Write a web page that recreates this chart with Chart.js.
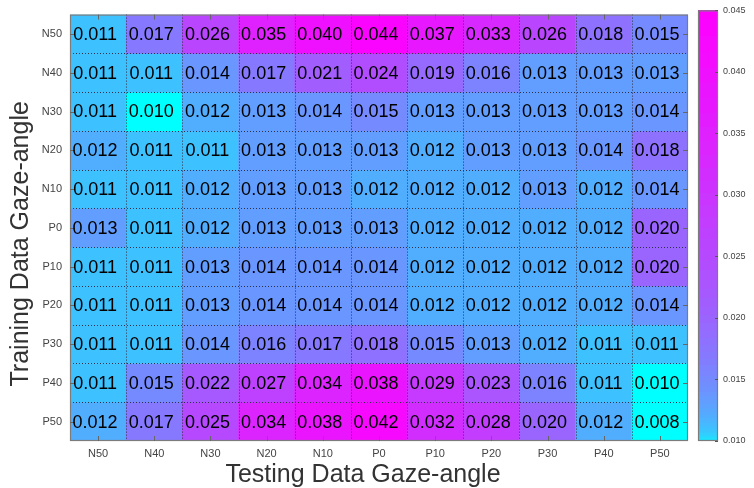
<!DOCTYPE html>
<html>
<head>
<meta charset="utf-8">
<script src="https://cdn.jsdelivr.net/npm/chart.js@4/dist/chart.umd.min.js"></script>
<style>
html,body{margin:0;padding:0;background:#fff;}
#wrap{position:relative;width:754px;height:488px;}
canvas{position:absolute;left:0;top:0;}
</style>
</head>
<body>
<div id="wrap">
<canvas id="main" width="754" height="488"></canvas>
<canvas id="cbar" width="754" height="488"></canvas>
</div>
<script>
// ---- data ----
const testAngles  = ['N50','N40','N30','N20','N10','P0','P10','P20','P30','P40','P50'];
const trainAngles = ['N50','N40','N30','N20','N10','P0','P10','P20','P30','P40','P50'];

const errN50 = [0.011,0.017,0.026,0.035,0.040,0.044,0.037,0.033,0.026,0.018,0.015];
const errN40 = [0.011,0.011,0.014,0.017,0.021,0.024,0.019,0.016,0.013,0.013,0.013];
const errN30 = [0.011,0.010,0.012,0.013,0.014,0.015,0.013,0.013,0.013,0.013,0.014];
const errN20 = [0.012,0.011,0.011,0.013,0.013,0.013,0.012,0.013,0.013,0.014,0.018];
const errN10 = [0.011,0.011,0.012,0.013,0.013,0.012,0.012,0.012,0.013,0.012,0.014];
const errP0  = [0.013,0.011,0.012,0.013,0.013,0.013,0.012,0.012,0.012,0.012,0.020];
const errP10 = [0.011,0.011,0.013,0.014,0.014,0.014,0.012,0.012,0.012,0.012,0.020];
const errP20 = [0.011,0.011,0.013,0.014,0.014,0.014,0.012,0.012,0.012,0.012,0.014];
const errP30 = [0.011,0.011,0.014,0.016,0.017,0.018,0.015,0.013,0.012,0.011,0.011];
const errP40 = [0.011,0.015,0.022,0.027,0.034,0.038,0.029,0.023,0.016,0.011,0.010];
const errP50 = [0.012,0.017,0.025,0.034,0.038,0.042,0.032,0.028,0.020,0.012,0.008];
const errorRows = [errN50,errN40,errN30,errN20,errN10,errP0,errP10,errP20,errP30,errP40,errP50];

const cbMin = 0.010, cbMax = 0.045, cbStep = 0.005;
const xTitle = 'Testing Data Gaze-angle';
const yTitle = 'Training Data Gaze-angle';

// ---- styling ----
const FONT = "'Liberation Sans', Arial, Helvetica, sans-serif";
const nRows = trainAngles.length, nCols = testAngles.length;

function cmap(v){
  let t = (v - cbMin) / (cbMax - cbMin);
  t = Math.max(0, Math.min(1, t));
  t = Math.pow(t, 0.4);
  t = Math.round(t * 63) / 63;
  const r = Math.round(255 * t), g = Math.round(255 * (1 - t));
  return 'rgb(' + r + ',' + g + ',255)';
}

const datasets = trainAngles.map((name, i) => ({
  label: name,
  data: testAngles.map(() => [nRows - 1 - i, nRows - i]),
  backgroundColor: ctx => cmap(errorRows[i][ctx.dataIndex]),
  borderWidth: 0,
  borderSkipped: false,
  grouped: false,
  categoryPercentage: 1,
  barPercentage: 1
}));

const heatDecor = {
  id: 'heatDecor',
  afterDatasetsDraw(chart) {
    const {ctx, chartArea: a, scales: {x, y}} = chart;
    ctx.save();
    // dotted cell separators
    ctx.strokeStyle = '#30304a';
    ctx.lineWidth = 1;
    ctx.setLineDash([1, 2]);
    for (let j = 1; j < nCols; j++) {
      const px = Math.round(x.getPixelForValue(j - 0.5)) + 0.5;
      ctx.beginPath(); ctx.moveTo(px, a.top); ctx.lineTo(px, a.bottom); ctx.stroke();
    }
    for (let i = 1; i < nRows; i++) {
      const py = Math.round(y.getPixelForValue(i)) + 0.5;
      ctx.beginPath(); ctx.moveTo(a.left, py); ctx.lineTo(a.right, py); ctx.stroke();
    }
    ctx.setLineDash([]);
    // box
    ctx.strokeStyle = '#7c7c7c';
    ctx.lineWidth = 1.2;
    ctx.strokeRect(a.left + 0.5, a.top + 0.5, a.width - 1, a.height - 1);
    // inward ticks
    ctx.strokeStyle = '#666';
    ctx.lineWidth = 1;
    for (let j = 0; j < nCols; j++) {
      const px = Math.round(x.getPixelForValue(j)) + 0.5;
      ctx.beginPath(); ctx.moveTo(px, a.top); ctx.lineTo(px, a.top + 5); ctx.stroke();
      ctx.beginPath(); ctx.moveTo(px, a.bottom); ctx.lineTo(px, a.bottom - 5); ctx.stroke();
    }
    for (let i = 0; i < nRows; i++) {
      const py = Math.round(y.getPixelForValue(nRows - 0.5 - i)) + 0.5;
      ctx.beginPath(); ctx.moveTo(a.left, py); ctx.lineTo(a.left + 5, py); ctx.stroke();
      ctx.beginPath(); ctx.moveTo(a.right, py); ctx.lineTo(a.right - 5, py); ctx.stroke();
    }
    // cell values
    ctx.fillStyle = '#000';
    ctx.font = '18px ' + FONT;
    ctx.textAlign = 'center';
    ctx.textBaseline = 'middle';
    chart.data.datasets.forEach((ds, i) => {
      const meta = chart.getDatasetMeta(i);
      meta.data.forEach((el, j) => {
        const p = el.getProps(['x', 'y', 'base'], true);
        ctx.fillText(errorRows[i][j].toFixed(3), p.x - 3, (p.y + p.base) / 2 + 1);
      });
    });
    ctx.restore();
  },
  afterDraw(chart) {
    const {ctx, chartArea: a} = chart;
    ctx.save();
    ctx.fillStyle = '#333';
    ctx.font = '25px ' + FONT;
    ctx.textAlign = 'center';
    ctx.textBaseline = 'middle';
    ctx.fillText(xTitle, (a.left + a.right) / 2 - 16, 475);
    ctx.translate(21, (a.top + a.bottom) / 2 + 16);
    ctx.rotate(-Math.PI / 2);
    ctx.fillText(yTitle, 0, 0);
    ctx.restore();
  }
};

new Chart(document.getElementById('main'), {
  type: 'bar',
  data: { labels: testAngles, datasets },
  options: {
    responsive: false,
    animation: false,
    events: [],
    layout: { padding: { top: 10, right: 66, left: 0, bottom: 0 } },
    plugins: { legend: { display: false }, tooltip: { enabled: false } },
    scales: {
      x: {
        type: 'category',
        offset: true,
        grid: { display: false, drawTicks: false },
        border: { display: false },
        ticks: { color: '#444', font: { size: 11, family: FONT }, padding: 6, maxRotation: 0 },
        afterFit: s => { s.height = 47; }
      },
      y: {
        type: 'linear',
        min: 0,
        max: nRows,
        grid: { display: false, drawTicks: false },
        border: { display: false },
        afterBuildTicks: s => { s.ticks = trainAngles.map((_, i) => ({ value: nRows - 0.5 - i })); },
        ticks: {
          autoSkip: false,
          color: '#444',
          font: { size: 11, family: FONT },
          padding: 8,
          callback: v => trainAngles[Math.round(nRows - 0.5 - v)]
        },
        afterFit: s => { s.width = 70; }
      }
    }
  },
  plugins: [heatDecor]
});

const colorbarPlugin = {
  id: 'colorbar',
  afterDraw(chart) {
    const {ctx, chartArea: a, scales: {y}} = chart;
    ctx.save();
    for (let py = Math.floor(a.top); py < a.bottom; py++) {
      ctx.fillStyle = cmap(y.getValueForPixel(py + 0.5));
      ctx.fillRect(a.left, py, a.width, 1);
    }
    ctx.strokeStyle = '#7c7c7c';
    ctx.lineWidth = 1.2;
    ctx.strokeRect(a.left + 0.5, a.top + 0.5, a.width - 1, a.height - 1);
    ctx.strokeStyle = '#555';
    ctx.lineWidth = 1;
    y.ticks.forEach(t => {
      const py = Math.round(y.getPixelForValue(t.value)) + 0.5;
      ctx.beginPath(); ctx.moveTo(a.right - 3, py); ctx.lineTo(a.right, py); ctx.stroke();
    });
    ctx.restore();
  }
};

new Chart(document.getElementById('cbar'), {
  type: 'bar',
  data: { labels: [''], datasets: [{ data: [] }] },
  options: {
    responsive: false,
    animation: false,
    events: [],
    layout: { padding: { left: 698, top: 10, bottom: 47, right: 0 } },
    plugins: { legend: { display: false }, tooltip: { enabled: false } },
    scales: {
      x: { display: false },
      y: {
        type: 'linear',
        position: 'right',
        min: cbMin,
        max: cbMax,
        grid: { display: false, drawTicks: false },
        border: { display: false },
        ticks: { stepSize: cbStep, color: '#444', font: { size: 9, family: FONT }, padding: 5, callback: v => v.toFixed(3) },
        afterFit: s => { s.width = 36; }
      }
    }
  },
  plugins: [colorbarPlugin]
});
</script>
</body>
</html>
